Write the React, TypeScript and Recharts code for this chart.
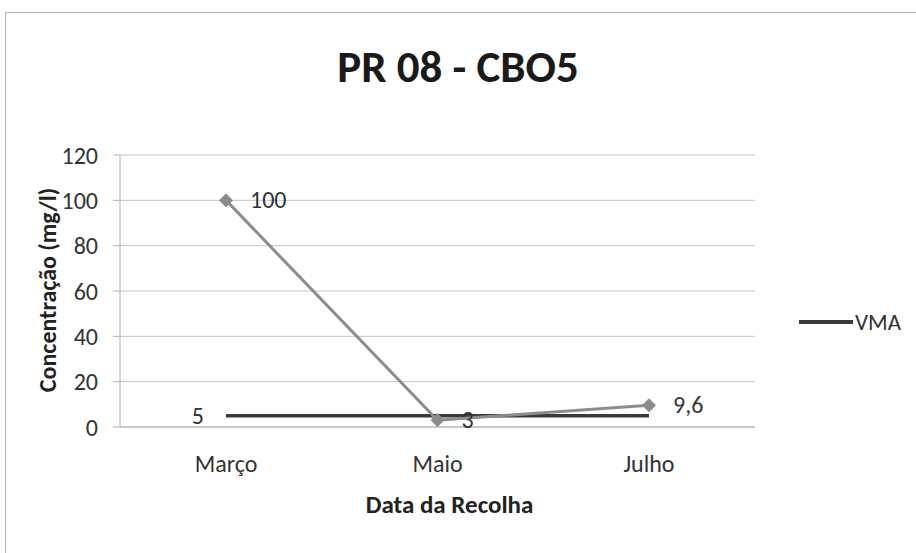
import React from 'react';
import { LineChart, Line, XAxis, YAxis, CartesianGrid, LabelList } from 'recharts';

const categories = ['Março', 'Maio', 'Julho'];
const cbo5Values = [100, 3, 9.6];
const vmaValues = [5, 5, 5];
const yTicks = [0, 20, 40, 60, 80, 100, 120];

const data = categories.map((c, i) => ({ month: c, cbo5: cbo5Values[i], vma: vmaValues[i] }));

const FONT = 'Carlito, Lato, "Open Sans", sans-serif';
const fmt = (v: number) => String(v).replace('.', ',');

const Diamond = (props: any) => {
  const { cx, cy } = props;
  if (cx == null || cy == null) return null;
  const r = 6.5;
  return <path d={`M${cx},${cy - r}L${cx + r},${cy}L${cx},${cy + r}L${cx - r},${cy}Z`} fill="#8c8c8c" stroke="#8c8c8c" />;
};

const CboLabel = (props: any) => {
  const { x, y, value } = props;
  return (
    <text x={x + 24} y={y + 8} fontSize={24} fontFamily={FONT} fill="#333" textAnchor="start">
      {fmt(value)}
    </text>
  );
};

const VmaLabel = (props: any) => {
  const { x, y, value, index } = props;
  if (index !== 0) return null;
  return (
    <text x={x - 22} y={y + 8} fontSize={24} fontFamily={FONT} fill="#333" textAnchor="end">
      {fmt(value)}
    </text>
  );
};

const YLabel = (props: any) => {
  const vb = props.viewBox || {};
  const cx = vb.x + 42;
  const cy = vb.y + vb.height / 2 - 1;
  return (
    <text x={cx} y={cy} transform={`rotate(-90, ${cx}, ${cy})`} textAnchor="middle" dominantBaseline="central"
      fontSize={24} fontWeight="bold" fontFamily={FONT} fill="#222">
      Concentração (mg/l)
    </text>
  );
};

const XLabel = (props: any) => {
  const vb = props.viewBox || {};
  const cx = vb.x + vb.width / 2 + 12;
  const cy = vb.y + 86;
  return (
    <text x={cx} y={cy} textAnchor="middle" fontSize={25} fontWeight="bold" fontFamily={FONT} fill="#222">
      Data da Recolha
    </text>
  );
};

export default function App() {
  return (
    <div style={{ position: 'absolute', left: 0, top: 0, width: 916, height: 553, background: '#fff', overflow: 'hidden' }}>
      <div style={{ position: 'absolute', left: 5, top: 12, width: 911, height: 541, borderLeft: '1px solid #b5b5b5', borderTop: '1px solid #b5b5b5' }} />
      <div style={{ position: 'absolute', left: 0, top: 40, width: 916, lineHeight: '54px', textAlign: 'center', fontFamily: FONT, fontWeight: 'bold', fontSize: 45, color: '#1a1a1a' }}>
        PR 08 - CBO5
      </div>
      <div style={{ position: 'absolute', left: 799, top: 308, display: 'flex', alignItems: 'center', fontFamily: FONT, fontSize: 23, color: '#333' }}>
        <svg width={54} height={10}>
          <line x1={0} y1={5} x2={54} y2={5} stroke="#3a3a3a" strokeWidth={4} />
        </svg>
        <span style={{ marginLeft: 2 }}>VMA</span>
      </div>
      <div style={{ position: 'absolute', left: 0, top: 0 }}>
        <LineChart width={916} height={553} data={data} margin={{ top: 155, right: 161, bottom: 96, left: 5 }}>
          <CartesianGrid vertical={false} stroke="#c4c4c4" strokeWidth={1} />
          <XAxis dataKey="month" padding={{ left: 106, right: 106 }} axisLine={{ stroke: '#b0b0b0' }} tickLine={false}
            tick={{ fontSize: 24, fontFamily: FONT, fill: '#333' }} tickMargin={22} label={<XLabel />} />
          <YAxis width={115} domain={[0, 120]} ticks={yTicks} axisLine={{ stroke: '#b0b0b0' }} tickLine={{ stroke: '#b0b0b0' }} tickSize={7}
            tick={{ fontSize: 24, fontFamily: FONT, fill: '#333' }} tickMargin={15} label={<YLabel />} />
          <Line type="linear" dataKey="vma" name="VMA" stroke="#3a3a3a" strokeWidth={3.5} dot={false} activeDot={false} isAnimationActive={false}>
            <LabelList dataKey="vma" content={<VmaLabel />} />
          </Line>
          <Line type="linear" dataKey="cbo5" name="CBO5" stroke="#8c8c8c" strokeWidth={3} dot={<Diamond />} activeDot={false} isAnimationActive={false}>
            <LabelList dataKey="cbo5" content={<CboLabel />} />
          </Line>
        </LineChart>
      </div>
    </div>
  );
}
